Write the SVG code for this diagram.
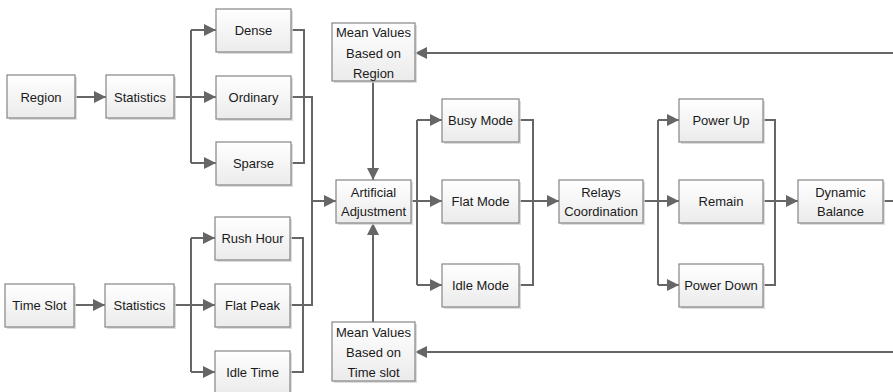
<svg xmlns="http://www.w3.org/2000/svg" width="893" height="392" viewBox="0 0 893 392">
<defs>
<linearGradient id="bg" x1="0" y1="0" x2="0" y2="1">
<stop offset="0" stop-color="#ffffff"/>
<stop offset="1" stop-color="#ebebeb"/>
</linearGradient>
<marker id="ah" markerUnits="userSpaceOnUse" markerWidth="12" markerHeight="12" refX="12" refY="6" orient="auto">
<path d="M0,0 L12,6 L0,12 z" fill="#666666"/>
</marker>
</defs>
<style>
.sh{fill:#d4d4d4;opacity:0.8}
.bx{fill:url(#bg);stroke:#858585;stroke-width:1.2}
text{font-family:"Liberation Sans",Arial,sans-serif;font-size:13px;fill:#1a1a1a;text-anchor:middle}
.c{fill:none;stroke:#666666;stroke-width:2}
.a{marker-end:url(#ah)}
</style>
<rect width="893" height="392" fill="#ffffff"/>
<g id="connectors">
<path class="c a" d="M75 97 H106"/>
<path class="c a" d="M174 97 H216"/>
<path class="c" d="M191 30 V163"/>
<path class="c a" d="M191 30 H216"/>
<path class="c a" d="M191 163 H216"/>
<path class="c" d="M291 30 H304 V163 H291"/>
<path class="c" d="M291 97 H312 V201"/>
<path class="c a" d="M74 305 H105"/>
<path class="c a" d="M174 305 H215"/>
<path class="c" d="M191 238 V372"/>
<path class="c a" d="M191 238 H215"/>
<path class="c a" d="M191 372 H215"/>
<path class="c" d="M290 238 H303 V372 H290"/>
<path class="c" d="M290 305 H312 V201"/>
<path class="c a" d="M312 201 H336"/>
<path class="c a" d="M373 81 V180"/>
<path class="c a" d="M373 322 V223"/>
<path class="c a" d="M893 53 H415"/>
<path class="c a" d="M893 352 H415"/>
<path class="c a" d="M411 201 H442"/>
<path class="c" d="M417 120 V285"/>
<path class="c a" d="M417 120 H442"/>
<path class="c a" d="M417 285 H442"/>
<path class="c" d="M519 120 H533 V285 H519"/>
<path class="c a" d="M519 201 H559"/>
<path class="c a" d="M643 201 H679"/>
<path class="c" d="M658 120 V285"/>
<path class="c a" d="M658 120 H679"/>
<path class="c a" d="M658 285 H679"/>
<path class="c" d="M763 120 H775 V285 H763"/>
<path class="c a" d="M763 201 H798"/>
<path class="c" d="M883 201 H893"/>
</g>
<g id="region"><rect class="sh" x="9" y="77" width="68" height="43"/><rect class="bx" x="7" y="75" width="68" height="43"/><text x="41" y="102">Region</text></g>
<g id="statistics1"><rect class="sh" x="108" y="77" width="68" height="43"/><rect class="bx" x="106" y="75" width="68" height="43"/><text x="140" y="102">Statistics</text></g>
<g id="dense"><rect class="sh" x="218" y="11" width="75" height="43"/><rect class="bx" x="216" y="9" width="75" height="43"/><text x="253.5" y="35">Dense</text></g>
<g id="ordinary"><rect class="sh" x="218" y="78" width="75" height="43"/><rect class="bx" x="216" y="76" width="75" height="43"/><text x="253.5" y="102">Ordinary</text></g>
<g id="sparse"><rect class="sh" x="218" y="144" width="75" height="43"/><rect class="bx" x="216" y="142" width="75" height="43"/><text x="253.5" y="168">Sparse</text></g>
<g id="timeslot"><rect class="sh" x="7" y="286" width="69" height="43"/><rect class="bx" x="5" y="284" width="69" height="43"/><text x="39.5" y="310">Time Slot</text></g>
<g id="statistics2"><rect class="sh" x="107" y="286" width="69" height="43"/><rect class="bx" x="105" y="284" width="69" height="43"/><text x="139.5" y="310">Statistics</text></g>
<g id="rushhour"><rect class="sh" x="217" y="219" width="75" height="43"/><rect class="bx" x="215" y="217" width="75" height="43"/><text x="252.5" y="243">Rush Hour</text></g>
<g id="flatpeak"><rect class="sh" x="217" y="286" width="75" height="43"/><rect class="bx" x="215" y="284" width="75" height="43"/><text x="252.5" y="310">Flat Peak</text></g>
<g id="idletime"><rect class="sh" x="217" y="353" width="75" height="43"/><rect class="bx" x="215" y="351" width="75" height="43"/><text x="252.5" y="377">Idle Time</text></g>
<g id="meanregion"><rect class="sh" x="334" y="25" width="83" height="58"/><rect class="bx" x="332" y="23" width="83" height="58"/><text x="373.5" y="37">Mean Values</text><text x="373.5" y="57.5">Based on</text><text x="373.5" y="77.5">Region</text></g>
<g id="artificial"><rect class="sh" x="338" y="182" width="75" height="43"/><rect class="bx" x="336" y="180" width="75" height="43"/><text x="373.5" y="197">Artificial</text><text x="373.5" y="216">Adjustment</text></g>
<g id="meantime"><rect class="sh" x="334" y="324" width="83" height="59"/><rect class="bx" x="332" y="322" width="83" height="59"/><text x="373.5" y="337">Mean Values</text><text x="373.5" y="357">Based on</text><text x="373.5" y="377">Time slot</text></g>
<g id="busymode"><rect class="sh" x="444" y="101" width="77" height="43"/><rect class="bx" x="442" y="99" width="77" height="43"/><text x="480.5" y="125">Busy Mode</text></g>
<g id="flatmode"><rect class="sh" x="444" y="182" width="77" height="43"/><rect class="bx" x="442" y="180" width="77" height="43"/><text x="480.5" y="206">Flat Mode</text></g>
<g id="idlemode"><rect class="sh" x="444" y="266" width="77" height="43"/><rect class="bx" x="442" y="264" width="77" height="43"/><text x="480.5" y="290">Idle Mode</text></g>
<g id="relays"><rect class="sh" x="561" y="182" width="84" height="43"/><rect class="bx" x="559" y="180" width="84" height="43"/><text x="601" y="197">Relays</text><text x="601" y="216">Coordination</text></g>
<g id="powerup"><rect class="sh" x="681" y="101" width="84" height="43"/><rect class="bx" x="679" y="99" width="84" height="43"/><text x="721" y="125">Power Up</text></g>
<g id="remain"><rect class="sh" x="681" y="182" width="84" height="43"/><rect class="bx" x="679" y="180" width="84" height="43"/><text x="721" y="206">Remain</text></g>
<g id="powerdown"><rect class="sh" x="681" y="266" width="84" height="43"/><rect class="bx" x="679" y="264" width="84" height="43"/><text x="721" y="290">Power Down</text></g>
<g id="dynamic"><rect class="sh" x="800" y="182" width="85" height="43"/><rect class="bx" x="798" y="180" width="85" height="43"/><text x="840.5" y="197">Dynamic</text><text x="840.5" y="216">Balance</text></g>
</svg>
